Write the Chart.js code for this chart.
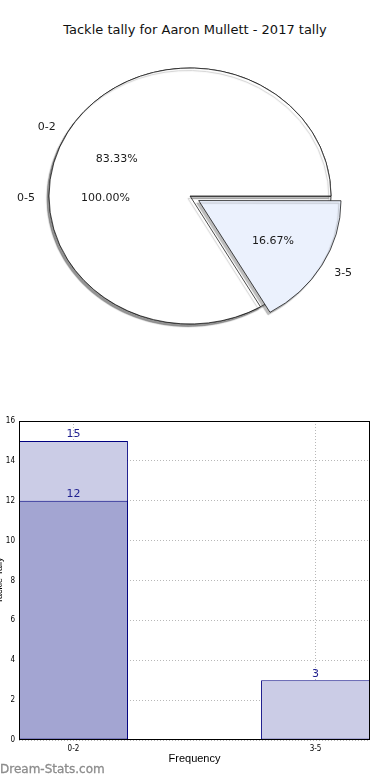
<!DOCTYPE html>
<html>
<head>
<meta charset="utf-8">
<script src="https://cdn.jsdelivr.net/npm/chart.js@4.4.1/dist/chart.umd.min.js"></script>
<style>
  html, body { margin: 0; padding: 0; background: #fff; }
  body { width: 390px; height: 780px; position: relative; overflow: hidden; font-family: "DejaVu Sans", sans-serif; }
  #title { position: absolute; top: 22px; left: 0; width: 390px; text-align: center; font-size: 13px; color: #111; }
  .pie { position: absolute; left: 0; top: 40px; width: 380px; height: 312px; }
  #barBox { position: absolute; left: -10px; top: 400px; width: 400px; height: 370px; }
  #mark { position: absolute; left: 0; top: 762px; font-size: 12px; color: #8c8c8c; -webkit-text-stroke: 0.3px #8c8c8c; }
</style>
</head>
<body>
<div id="title">Tackle tally for Aaron Mullett - 2017 tally</div>
<div class="pie"><canvas id="pieAll"></canvas></div>
<div class="pie"><canvas id="pieSplit"></canvas></div>
<div id="barBox"><canvas id="bars"></canvas></div>
<div id="mark">Dream-Stats.com</div>
<script>
// pie: whole range under the split
const allLabels = ["0-5"];
const allValues = [18];
const pieLabels = ["0-2", "3-5"];
const pieValues = [15, 3];

// bars
const barLabels = ["0-2", "3-5"];
const barPositions = [0, 1];
const tallyValues = [15, 3];
const seasonValues = [12, null];

const SQUASH = 128 / 141;

const pieLook = {
  id: "pieLook",
  beforeDatasetsDraw(chart) {
    const ctx = chart.ctx;
    const a = chart.chartArea;
    const cy = (a.top + a.bottom) / 2;
    ctx.save();
    ctx.translate(0, cy);
    ctx.scale(1, SQUASH);
    ctx.translate(0, -cy);
    ctx.shadowColor = "rgba(90,90,90,0.4)";
    ctx.shadowOffsetX = -2;
    ctx.shadowOffsetY = 2.5;
    ctx.shadowBlur = 1;
  },
  afterDatasetsDraw(chart) {
    chart.ctx.restore();
  },
};

function drawPieLabels(chart, ctx) {
  const meta = chart.getDatasetMeta(0);
  const values = chart.data.datasets[0].data;
  const labels = chart.data.labels;
  const total = values.reduce((s, v) => s + v, 0);
  meta.data.forEach((arc, i) => {
    const p = arc.getProps(["x", "y", "startAngle", "endAngle", "outerRadius"]);
    const mid = (p.startAngle + p.endAngle) / 2;
    const sweep = p.endAngle - p.startAngle;
    const off = (arc.options.offset || 0) / 4;
    const shift = off + off * (1 - Math.sin(Math.min(Math.PI, sweep)));
    const put = (k) => {
      const d = shift + p.outerRadius * k;
      return [p.x + Math.cos(mid) * d, p.y + Math.sin(mid) * d * SQUASH + 2];
    };
    ctx.textBaseline = "middle";
    const [lx, ly] = put(1.1);
    ctx.textAlign = Math.cos(mid) < 0 ? "right" : "left";
    ctx.fillText(labels[i], lx, ly);
    const [px, py] = put(0.6);
    ctx.textAlign = "center";
    ctx.fillText((values[i] / total * 100).toFixed(2) + "%", px, py);
  });
}

const pieAll = new Chart(document.getElementById("pieAll"), {
  type: "pie",
  data: {
    labels: allLabels,
    datasets: [{
      data: allValues,
      backgroundColor: "#ffffff",
      borderColor: "#000000",
      borderWidth: 0.8,
    }],
  },
  options: {
    responsive: true,
    maintainAspectRatio: false,
    animation: false,
    rotation: 90,
    radius: 141,
    plugins: { legend: { display: false }, tooltip: { enabled: false } },
  },
  plugins: [pieLook],
});

const pieSplit = new Chart(document.getElementById("pieSplit"), {
  type: "pie",
  data: {
    labels: pieLabels,
    datasets: [{
      data: pieValues,
      backgroundColor: ["#ffffff", "#ebf1fd"],
      borderColor: "#111111",
      borderWidth: 0.8,
      offset: [0, 40],
    }],
  },
  options: {
    responsive: true,
    maintainAspectRatio: false,
    animation: false,
    rotation: 150,
    radius: 141,
    plugins: { legend: { display: false }, tooltip: { enabled: false } },
  },
  plugins: [pieLook, {
    id: "pieText",
    afterDraw(chart) {
      const ctx = chart.ctx;
      ctx.save();
      ctx.font = '11px "DejaVu Sans"';
      ctx.fillStyle = "#1a1a1a";
      drawPieLabels(pieAll, ctx);
      drawPieLabels(chart, ctx);
      ctx.restore();
    },
  }],
});

const valueTags = {
  id: "valueTags",
  afterDatasetsDraw(chart) {
    const ctx = chart.ctx;
    ctx.save();
    ctx.font = '11px "DejaVu Sans"';
    ctx.fillStyle = "#1f1f8f";
    ctx.textAlign = "center";
    ctx.textBaseline = "bottom";
    chart.data.datasets.forEach((ds, d) => {
      chart.getDatasetMeta(d).data.forEach((bar, i) => {
        const v = ds.data[i].y;
        if (v == null) return;
        ctx.fillText(String(v), bar.x, bar.y - 1);
      });
    });
    ctx.restore();
  },
};

const frame = {
  id: "frame",
  afterDraw(chart) {
    const ctx = chart.ctx;
    const a = chart.chartArea;
    ctx.save();
    ctx.strokeStyle = "#000";
    ctx.lineWidth = 1;
    ctx.strokeRect(Math.round(a.left) + 0.5, Math.round(a.top) + 0.5,
      Math.round(a.right - a.left) - 1, Math.round(a.bottom - a.top) - 1);
    ctx.restore();
  },
};

const tickFont = { family: '"DejaVu Sans Condensed", "DejaVu Sans"', size: 8 };

new Chart(document.getElementById("bars"), {
  type: "bar",
  data: {
    datasets: [
      {
        label: "season",
        data: barPositions.map((x, i) => ({ x, y: seasonValues[i] })),
        backgroundColor: "#a3a5d2",
        borderColor: "#000080",
        borderWidth: 1,
        borderSkipped: false,
        grouped: false,
        categoryPercentage: 1,
        barPercentage: 0.45,
      },
      {
        label: "tally",
        data: barPositions.map((x, i) => ({ x, y: tallyValues[i] })),
        backgroundColor: "#cbcce6",
        borderColor: "#000080",
        borderWidth: 1,
        borderSkipped: false,
        grouped: false,
        categoryPercentage: 1,
        barPercentage: 0.45,
      },
    ],
  },
  options: {
    responsive: true,
    maintainAspectRatio: false,
    animation: false,
    layout: { padding: { top: 21, right: 20, left: 0, bottom: 0 } },
    plugins: { legend: { display: false }, tooltip: { enabled: false } },
    scales: {
      x: {
        type: "linear",
        min: -0.225,
        max: 1.225,
        offset: false,
        z: 1,
        afterBuildTicks: (s) => { s.ticks = barPositions.map((v) => ({ value: v })); },
        afterFit: (s) => { s.height = 30; },
        ticks: {
          font: tickFont,
          color: "#000",
          padding: 4,
          callback: (v) => barLabels[barPositions.indexOf(v)] ?? "",
        },
        grid: { color: "rgba(0,0,0,0.28)", drawTicks: false, offset: false },
        border: { display: false, dash: [1, 2] },
        title: { display: true, text: "Frequency", color: "#000", font: { size: 11 }, padding: { top: 0, bottom: 4 } },
      },
      y: {
        min: 0,
        max: 16,
        z: 1,
        afterFit: (s) => { s.width = 29; },
        ticks: { stepSize: 2, font: tickFont, color: "#000", padding: 4 },
        grid: { color: "rgba(0,0,0,0.28)", drawTicks: false },
        border: { display: false, dash: [1, 2] },
        title: { display: true, text: "Tackle Tally", color: "#000", font: { size: 9 }, padding: { top: 4, bottom: 0 } },
      },
    },
  },
  plugins: [valueTags, frame],
});
</script>
</body>
</html>
